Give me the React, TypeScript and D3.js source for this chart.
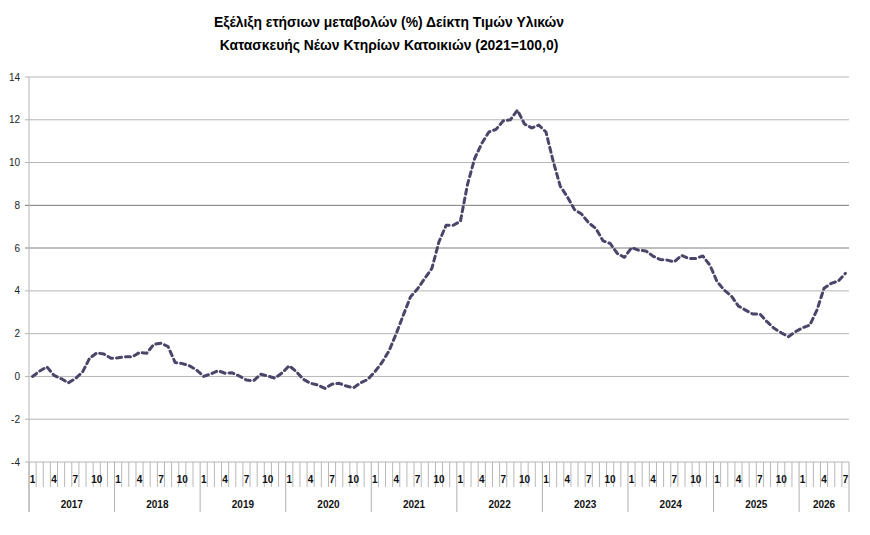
import React from "react";
import * as d3 from "d3";

const years = ["2017", "2018", "2019", "2020", "2021", "2022", "2023", "2024", "2025", "2026"];
const monthsLastYear = 7;
const yTicks = [-4, -2, 0, 2, 4, 6, 8, 10, 12, 14];
const monthLabelNums = [1, 4, 7, 10];

const values2017 = [0.0, 0.25, 0.45, 0.05, -0.1, -0.3, -0.1, 0.2, 0.85, 1.1, 1.05, 0.85];
const values2018 = [0.87, 0.92, 0.92, 1.12, 1.08, 1.5, 1.55, 1.4, 0.65, 0.6, 0.5, 0.3];
const values2019 = [0.0, 0.12, 0.27, 0.15, 0.17, 0.02, -0.17, -0.2, 0.1, 0.02, -0.08, 0.17];
const values2020 = [0.5, 0.22, -0.14, -0.32, -0.4, -0.56, -0.36, -0.32, -0.45, -0.53, -0.3, -0.14];
const values2021 = [0.22, 0.65, 1.2, 2.0, 2.87, 3.72, 4.1, 4.58, 5.05, 6.3, 7.07, 7.07];
const values2022 = [7.25, 8.98, 10.19, 10.9, 11.43, 11.55, 11.95, 12.0, 12.45, 11.8, 11.62, 11.75];
const values2023 = [11.43, 10.08, 8.9, 8.4, 7.8, 7.59, 7.18, 6.92, 6.34, 6.22, 5.75, 5.57];
const values2024 = [6.02, 5.9, 5.87, 5.63, 5.47, 5.44, 5.36, 5.66, 5.52, 5.52, 5.63, 5.2];
const values2025 = [4.43, 4.04, 3.76, 3.29, 3.1, 2.92, 2.92, 2.56, 2.25, 2.04, 1.86, 2.09];
const values2026 = [2.28, 2.4, 3.1, 4.12, 4.35, 4.46, 4.82];

const titleLines = [
  "Εξέλιξη ετήσιων μεταβολών (%) Δείκτη Τιμών Υλικών",
  "Κατασκευής Νέων Κτηρίων Κατοικιών (2021=100,0)",
];

const allValues = [
  ...values2017, ...values2018, ...values2019, ...values2020, ...values2021,
  ...values2022, ...values2023, ...values2024, ...values2025, ...values2026,
];

type Pt = { year: string; month: number; idx: number; v: number };
const points: Pt[] = allValues.map((v, i) => ({
  year: years[Math.floor(i / 12)],
  month: (i % 12) + 1,
  idx: i,
  v,
}));

const W = 870;
const H = 535;
const left = 29;
const right = 849;
const top = 77;
const bottom = 462;

export default function App() {
  const x = d3
    .scaleBand<number>()
    .domain(points.map((p) => p.idx))
    .range([left, right])
    .padding(0);
  const bw = x.bandwidth();
  const y = d3.scaleLinear().domain([-4, 14]).range([bottom, top]);
  const line = d3
    .line<Pt>()
    .x((p) => (x(p.idx) as number) + bw / 2)
    .y((p) => y(p.v));

  const font = "'Liberation Sans', Arial, sans-serif";

  const yearSpans = years.map((yr, k) => {
    const startIdx = k * 12;
    const n = k === years.length - 1 ? monthsLastYear : 12;
    const x0 = x(startIdx) as number;
    const x1 = x0 + n * bw;
    return { yr, x0, x1 };
  });

  return (
    <svg
      width={W}
      height={H}
      style={{ position: "absolute", left: 0, top: 0, background: "#fff" }}
    >
      <g fontFamily={font} fontWeight="bold" fontSize={13.9} fill="#000" textAnchor="middle">
        {titleLines.map((t, i) => (
          <text key={i} x={389} y={27 + i * 23}>
            {t}
          </text>
        ))}
      </g>

      {yTicks.map((t) => {
        const isEight = t === 8;
        const isSix = t === 6;
        return (
          <g key={t}>
            <line
              x1={left - 4}
              x2={right}
              y1={y(t)}
              y2={y(t)}
              stroke={isEight ? "#7a7a7a" : isSix ? "#bdbdbd" : "#b5b5b5"}
              strokeWidth={isSix ? 2 : 1}
            />
            <text
              x={20}
              y={y(t) + 3.5}
              textAnchor="end"
              fontFamily={font}
              fontSize={10}
              fill="#222"
            >
              {t}
            </text>
          </g>
        );
      })}

      <line x1={left} x2={left} y1={top} y2={512} stroke="#b5b5b5" strokeWidth={1} />

      {points.map((p) => {
        const xx = x(p.idx) as number;
        return p.month === 1 ? null : (
          <line key={"t" + p.idx} x1={xx} x2={xx} y1={bottom} y2={487} stroke="#b8b8b8" strokeWidth={1} />
        );
      })}
      {yearSpans.map((s) => (
        <line key={"ys" + s.yr} x1={s.x0} x2={s.x0} y1={bottom} y2={512} stroke="#b0b0b0" strokeWidth={1} />
      ))}
      <line x1={right} x2={right} y1={bottom} y2={512} stroke="#b0b0b0" strokeWidth={1} />

      <g fontFamily={font} fontWeight="bold" fontSize={10} fill="#111" textAnchor="middle">
        {points
          .filter((p) => monthLabelNums.includes(p.month))
          .map((p) => (
            <text key={"m" + p.idx} x={(x(p.idx) as number) + bw / 2} y={483}>
              {p.month}
            </text>
          ))}
        {yearSpans.map((s) => (
          <text key={"yl" + s.yr} x={(s.x0 + s.x1) / 2} y={508}>
            {s.yr}
          </text>
        ))}
      </g>

      <path
        d={line(points) || ""}
        fill="none"
        stroke="#4b4569"
        strokeWidth={3}
        strokeDasharray="5,4"
        strokeLinecap="round"
        strokeLinejoin="round"
      />
    </svg>
  );
}
